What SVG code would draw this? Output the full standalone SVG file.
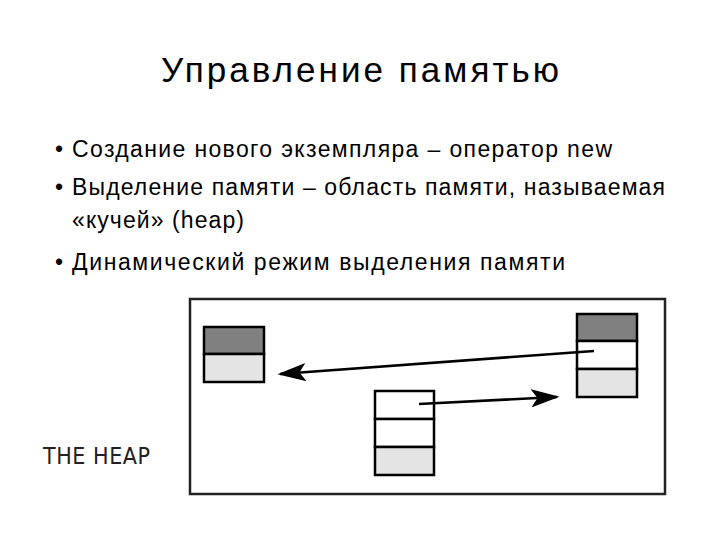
<svg xmlns="http://www.w3.org/2000/svg" width="720" height="540" viewBox="0 0 720 540">
<style>
text{font-family:"Liberation Sans","DejaVu Sans",sans-serif;fill:#000}
.b{font-size:23px}
.c{stroke:#000;stroke-width:2.5}
.d{fill:#808080}.w{fill:#fff}.l{fill:#e4e4e4}
</style>
<defs><marker id="ah" markerWidth="11" markerHeight="7" refX="10" refY="3.5" orient="auto" markerUnits="strokeWidth"><path d="M0,0L11,3.5L0,7L2.5,3.5Z" fill="#000"/></marker></defs>
<rect width="720" height="540" fill="#fff"/>
<g id="title"><text x="360" y="82" font-size="35" text-anchor="middle" textLength="398">Управление памятью</text></g>
<g id="bullets">
<text x="55" y="157" class="b">•</text><text x="72" y="157" class="b" textLength="540">Создание нового экземпляра – оператор new</text>
<text x="55" y="195" class="b">•</text><text x="72" y="195" class="b" textLength="593">Выделение памяти – область памяти, называемая</text>
<text x="72" y="228" class="b" textLength="172">«кучей» (heap)</text>
<text x="55" y="270" class="b">•</text><text x="72" y="270" class="b" textLength="493">Динамический режим выделения памяти</text>
</g>
<g id="heap">
<rect x="190" y="299" width="475" height="195" fill="#fff" stroke="#222" stroke-width="2.5"/>
<text x="43" y="464" font-size="23" textLength="107" style="font-family:'Liberation Sans Narrow','DejaVu Sans Condensed',sans-serif;fill:#222">THE HEAP</text>
</g>
<g id="boxA" class="c"><rect x="204" y="327" width="60" height="27" class="d"/><rect x="204" y="354" width="60" height="28" class="l"/></g>
<g id="boxB" class="c"><rect x="577" y="314" width="60" height="27" class="d"/><rect x="577" y="341" width="60" height="28" class="w"/><rect x="577" y="369" width="60" height="28" class="l"/></g>
<g id="boxC" class="c"><rect x="375" y="391" width="59" height="28" class="w"/><rect x="375" y="419" width="59" height="28" class="w"/><rect x="375" y="447" width="59" height="28" class="l"/></g>
<g id="connectors" stroke="#000" stroke-width="2.6" fill="none">
<line x1="594" y1="351" x2="280" y2="374" marker-end="url(#ah)"/>
<line x1="419" y1="404" x2="557" y2="397" marker-end="url(#ah)"/>
</g>
</svg>
